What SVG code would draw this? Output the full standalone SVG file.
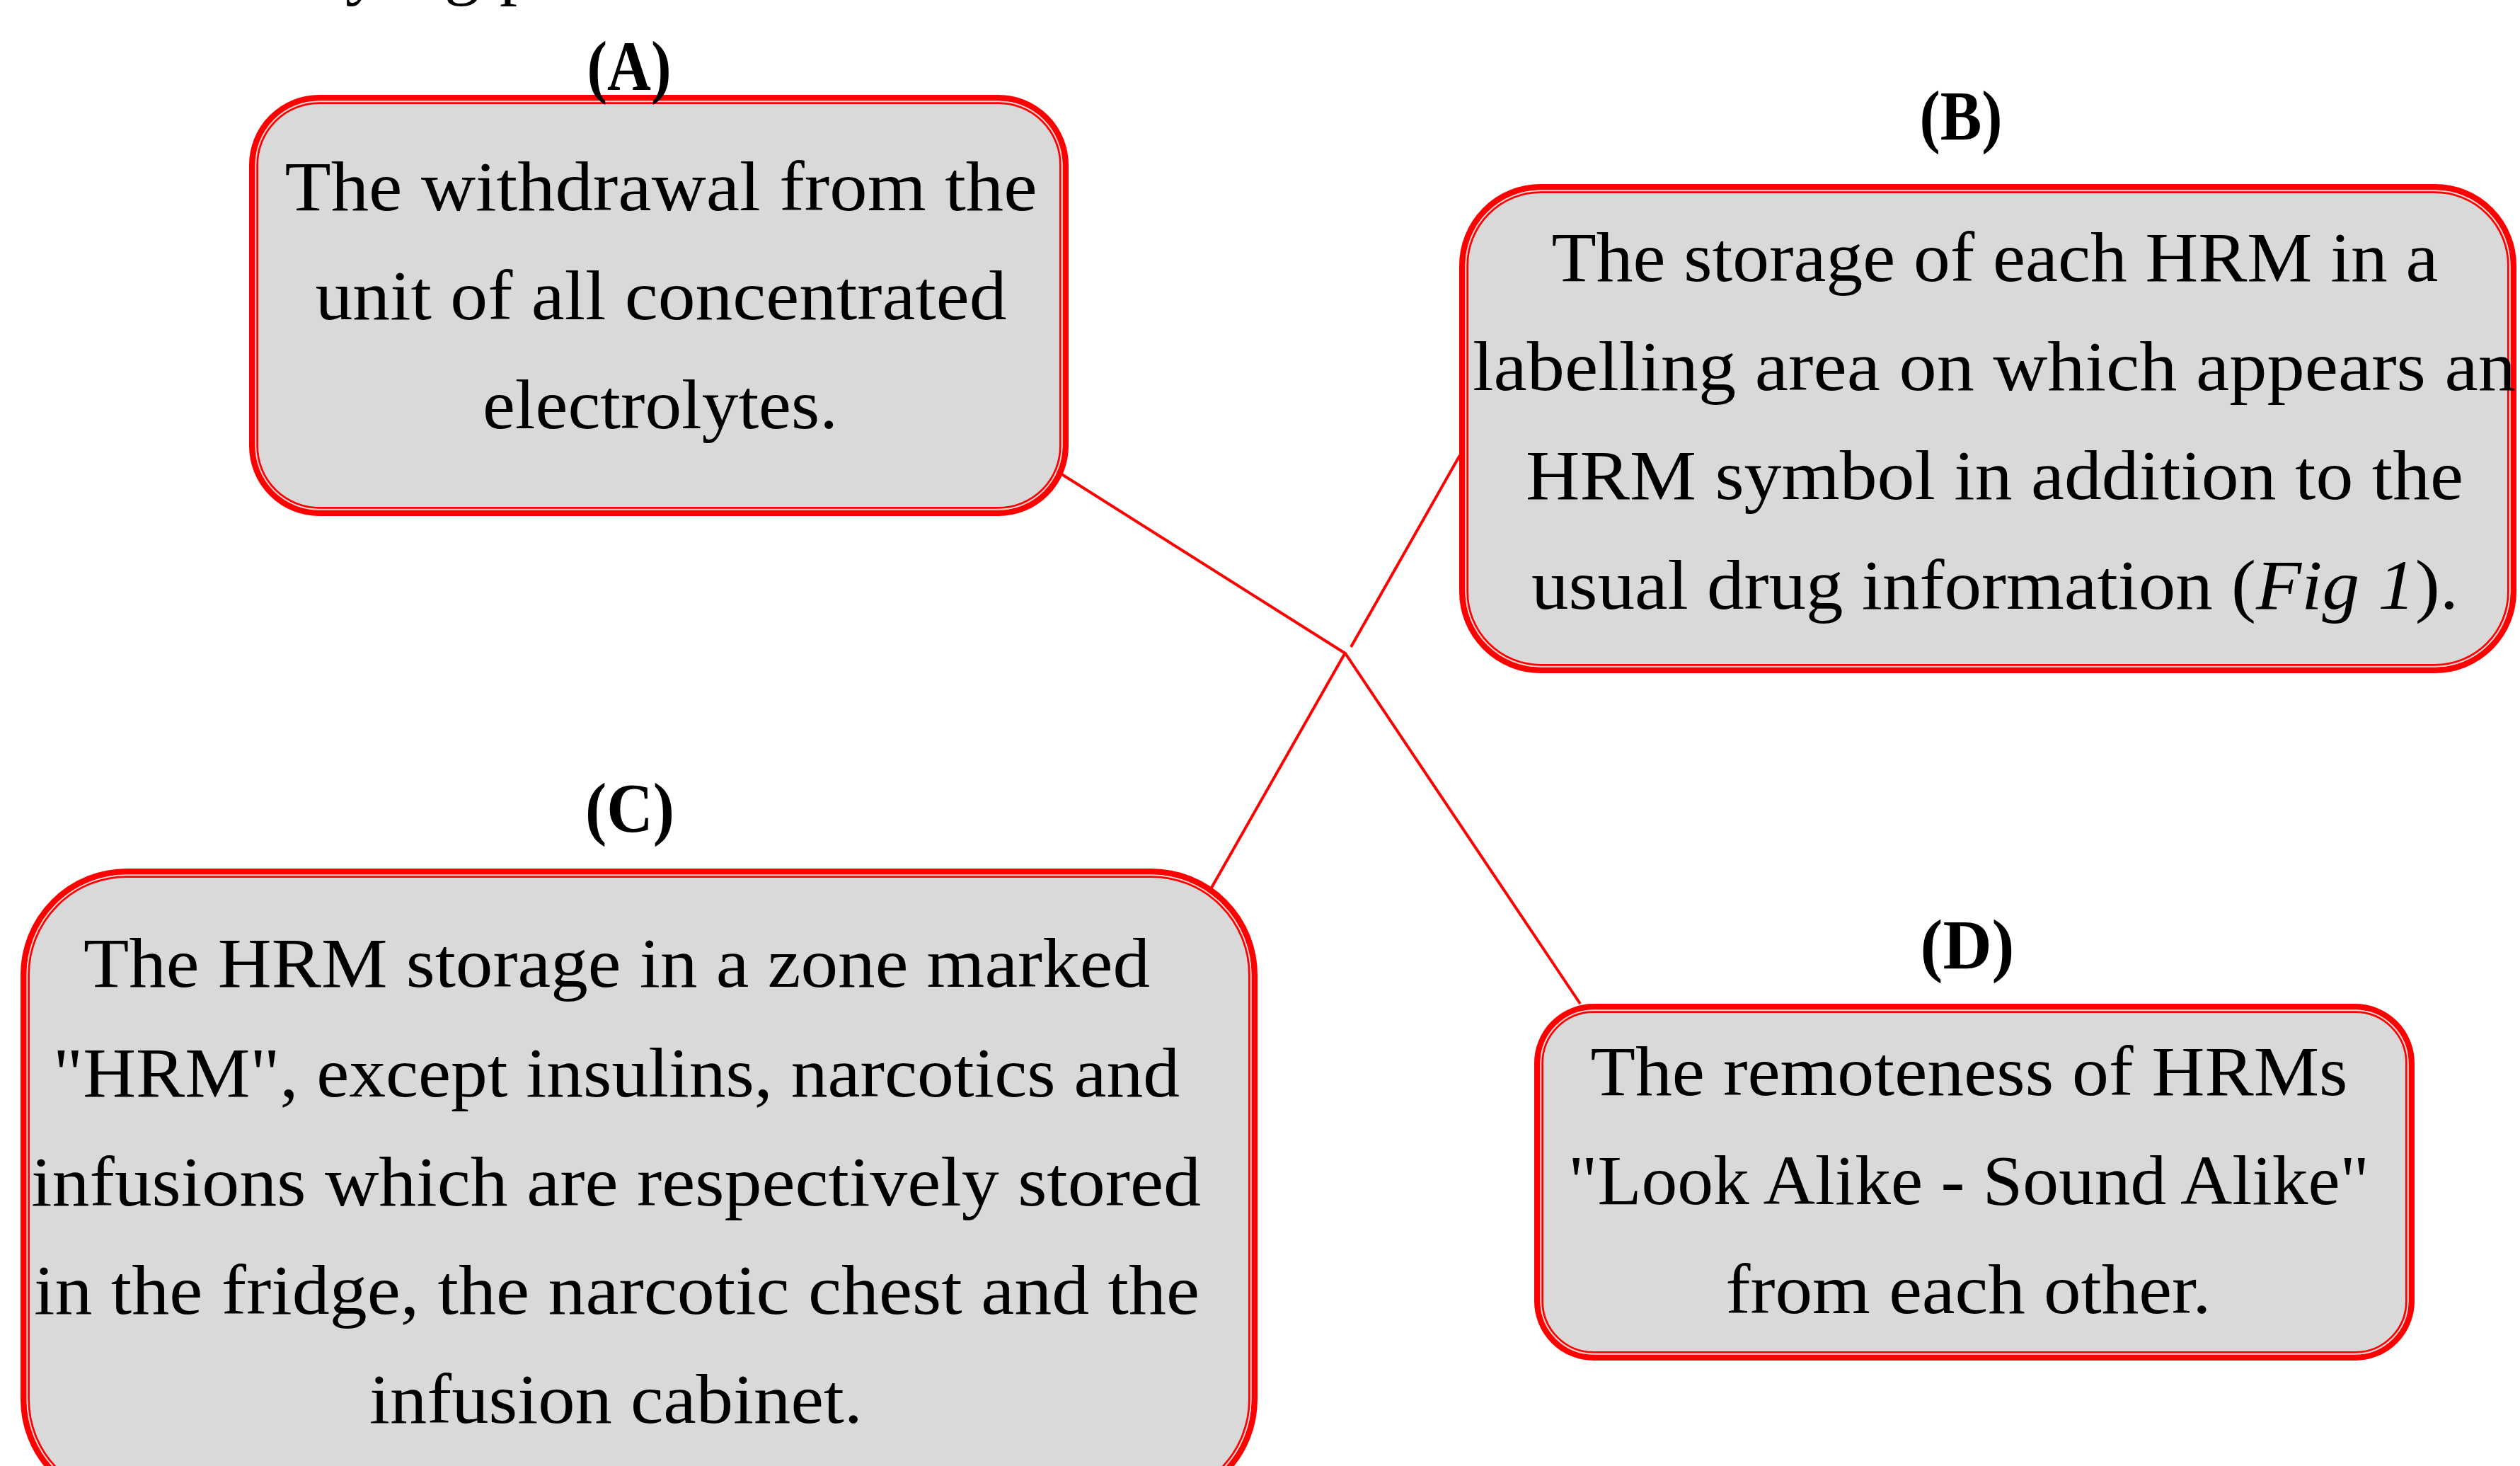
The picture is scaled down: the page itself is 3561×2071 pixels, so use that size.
<svg xmlns="http://www.w3.org/2000/svg" width="3561" height="2071" viewBox="0 0 3561 2071">
<style>
.outer{fill:#d9d9d9;stroke:#ff0000;stroke-width:8.5}
.gap{fill:none;stroke:#fbd6d6;stroke-width:1.8}
.inner{fill:none;stroke:#ff0000;stroke-width:2.7}
.txt{font-family:"Liberation Serif","Times New Roman",serif;font-size:100px;fill:#000;text-anchor:middle}
.lbl{font-family:"Liberation Serif","Times New Roman",serif;font-size:100px;font-weight:bold;fill:#000;text-anchor:middle}
.top{font-family:"Liberation Serif","Times New Roman",serif;font-size:100px;fill:#000}
.conn{fill:none;stroke:#ff0000;stroke-width:4;stroke-linejoin:miter}
</style>
<rect width="3561" height="2071" fill="#ffffff"/>
<text class="top" y="-12"><tspan x="488">y</tspan><tspan x="538">i</tspan><tspan x="566">n</tspan><tspan x="628">g</tspan><tspan x="678"> </tspan><tspan x="706">p</tspan></text>

<g id="nodeA">
<rect class="outer" x="356.25" y="138.25" width="1149.5" height="586.5" rx="94.75"/>
<rect class="gap" x="361.4" y="143.4" width="1139.2" height="576.2" rx="89.6"/>
<rect class="inner" x="363.65" y="145.65" width="1134.7" height="571.7" rx="87.35"/>
<text class="lbl" x="889" y="127" textLength="119" lengthAdjust="spacingAndGlyphs">(A)</text>
<text class="txt" x="934" y="297" textLength="1063" lengthAdjust="spacingAndGlyphs">The withdrawal from the</text>
<text class="txt" x="934" y="451" textLength="977" lengthAdjust="spacingAndGlyphs">unit of all concentrated</text>
<text class="txt" x="933" y="605" textLength="502" lengthAdjust="spacingAndGlyphs">electrolytes.</text>
</g>

<g id="nodeB">
<rect class="outer" x="2066.25" y="264.25" width="1485.5" height="682.5" rx="110.75"/>
<rect class="gap" x="2071.4" y="269.4" width="1475.2" height="672.2" rx="105.6"/>
<rect class="inner" x="2073.65" y="271.65" width="1470.7" height="667.7" rx="103.35"/>
<text class="lbl" x="2771" y="197" textLength="117" lengthAdjust="spacingAndGlyphs">(B)</text>
<text class="txt" x="2819" y="397" textLength="1253" lengthAdjust="spacingAndGlyphs">The storage of each HRM in a</text>
<text class="txt" x="2818" y="551" textLength="1474" lengthAdjust="spacingAndGlyphs">labelling area on which appears an</text>
<text class="txt" x="2818.5" y="705" textLength="1325" lengthAdjust="spacingAndGlyphs">HRM symbol in addition to the</text>
<text class="txt" x="2819" y="860" textLength="1310" lengthAdjust="spacingAndGlyphs">usual drug information (<tspan font-style="italic">Fig 1</tspan>).</text>
</g>

<g id="nodeC">
<rect class="outer" x="33.25" y="1231.25" width="1739.5" height="891.5" rx="145.75"/>
<rect class="gap" x="38.4" y="1236.4" width="1729.2" height="881.2" rx="140.6"/>
<rect class="inner" x="40.65" y="1238.65" width="1724.7" height="876.7" rx="138.35"/>
<text class="lbl" x="890" y="1175" textLength="126" lengthAdjust="spacingAndGlyphs">(C)</text>
<text class="txt" x="871.5" y="1394" textLength="1507" lengthAdjust="spacingAndGlyphs">The HRM storage in a zone marked</text>
<text class="txt" x="871" y="1549" textLength="1592" lengthAdjust="spacingAndGlyphs">"HRM", except insulins, narcotics and</text>
<text class="txt" x="870.5" y="1703" textLength="1653" lengthAdjust="spacingAndGlyphs">infusions which are respectively stored</text>
<text class="txt" x="871.5" y="1856" textLength="1647" lengthAdjust="spacingAndGlyphs">in the fridge, the narcotic chest and the</text>
<text class="txt" x="870.5" y="2010" textLength="697" lengthAdjust="spacingAndGlyphs">infusion cabinet.</text>
</g>

<g id="nodeD">
<rect class="outer" x="2172.25" y="1422.25" width="1235.5" height="495.5" rx="79.75"/>
<rect class="gap" x="2177.4" y="1427.4" width="1225.2" height="485.2" rx="74.6"/>
<rect class="inner" x="2179.65" y="1429.65" width="1220.7" height="480.7" rx="72.35"/>
<text class="lbl" x="2780" y="1368" textLength="133" lengthAdjust="spacingAndGlyphs">(D)</text>
<text class="txt" x="2782.5" y="1547" textLength="1070" lengthAdjust="spacingAndGlyphs">The remoteness of HRMs</text>
<text class="txt" x="2782" y="1701" textLength="1132" lengthAdjust="spacingAndGlyphs">"Look Alike - Sound Alike"</text>
<text class="txt" x="2781.5" y="1855" textLength="686" lengthAdjust="spacingAndGlyphs">from each other.</text>
</g>

<g id="connectors">
<path class="conn" d="M1494 666 L1901 923 L2233 1418"/>
<path class="conn" d="M1712 1254 L1901 922"/>
<path class="conn" d="M1909 914 L2063 643"/>
</g>
</svg>
